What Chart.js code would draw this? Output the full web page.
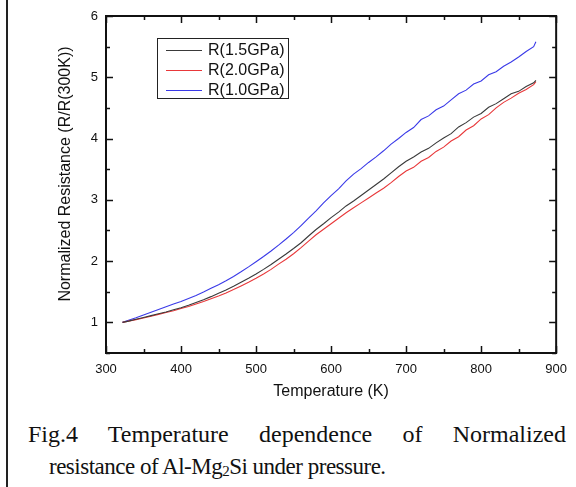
<!DOCTYPE html>
<html>
<head>
<meta charset="utf-8">
<script src="https://cdn.jsdelivr.net/npm/chart.js@4.4.1/dist/chart.umd.min.js"></script>
<style>
  html, body { margin: 0; padding: 0; background: #fff; }
  #wrap { position: relative; width: 576px; height: 487px; overflow: hidden; }
  #leftRule { position: absolute; left: 6px; top: 0; width: 2px; height: 487px; background: #222; }
  #chart { position: absolute; left: 0; top: 0; }
  .cap { position: absolute; font-family: "Liberation Serif", "DejaVu Serif", serif; font-size: 23px; color: #111; white-space: nowrap; }
  #cap1 { left: 28px; top: 421px; width: 538px; font-size: 24px; white-space: normal; text-align: justify; text-align-last: justify; }
  #cap2 { left: 49px; top: 454px; letter-spacing: -0.5px; }
</style>
</head>
<body>
<div id="wrap">
  <canvas id="chart" width="576" height="410"></canvas>
  <div id="leftRule"></div>
  <div class="cap" id="cap1">Fig.4 Temperature dependence of Normalized</div>
  <div class="cap" id="cap2">resistance of Al-Mg<sub style="font-size:15px;vertical-align:-2px">2</sub>Si under pressure.</div>
</div>
<script>
// temperature (K)
const temps = [322, 330, 340, 350, 360, 370, 380, 390, 400, 410, 420, 430, 440, 450, 460, 470, 480, 490,
    500, 510, 520, 530, 540, 550, 560, 570, 580, 590, 600, 610, 620, 630, 640, 650, 660, 670, 680, 690,
    700, 710, 720, 730, 740, 750, 760, 770, 780, 790, 800, 810, 820, 830, 840, 850, 860, 870, 873];

// R/R(300K) at 1.5 GPa
const r15 = [1.00, 1.02, 1.05, 1.08, 1.11, 1.14, 1.17, 1.205, 1.24, 1.28, 1.325, 1.37, 1.42, 1.475, 1.53, 1.59, 1.655, 1.72,
    1.79, 1.865, 1.945, 2.03, 2.115, 2.205, 2.30, 2.41, 2.515, 2.61, 2.71, 2.80, 2.90, 2.98, 3.07, 3.16, 3.25, 3.34, 3.44, 3.54,
    3.63, 3.70, 3.78, 3.84, 3.93, 4.01, 4.08, 4.19, 4.26, 4.35, 4.41, 4.51, 4.57, 4.65, 4.73, 4.77, 4.85, 4.91, 4.95];

// R/R(300K) at 2.0 GPa
const r20 = [1.00, 1.02, 1.045, 1.07, 1.10, 1.13, 1.16, 1.19, 1.225, 1.26, 1.30, 1.34, 1.385, 1.43, 1.48, 1.535, 1.595, 1.655,
    1.72, 1.79, 1.865, 1.95, 2.03, 2.12, 2.22, 2.325, 2.43, 2.52, 2.61, 2.70, 2.79, 2.87, 2.95, 3.03, 3.11, 3.19, 3.28, 3.38,
    3.47, 3.53, 3.63, 3.69, 3.79, 3.86, 3.96, 4.03, 4.14, 4.21, 4.32, 4.39, 4.50, 4.59, 4.66, 4.74, 4.80, 4.88, 4.93];

// R/R(300K) at 1.0 GPa
const r10 = [1.00, 1.035, 1.075, 1.12, 1.165, 1.21, 1.255, 1.30, 1.34, 1.39, 1.44, 1.495, 1.555, 1.615, 1.68, 1.75, 1.825, 1.905,
    1.99, 2.075, 2.165, 2.26, 2.36, 2.465, 2.58, 2.70, 2.82, 2.95, 3.07, 3.18, 3.31, 3.42, 3.51, 3.61, 3.70, 3.80, 3.91, 4.00,
    4.10, 4.18, 4.31, 4.37, 4.47, 4.53, 4.63, 4.73, 4.79, 4.89, 4.94, 5.04, 5.09, 5.18, 5.25, 5.33, 5.42, 5.50, 5.58];

const seriesNames = ['R(1.5GPa)', 'R(2.0GPa)', 'R(1.0GPa)'];
const seriesColors = ['#3a3a3a', '#e8383a', '#3a3ae8'];

const xTicks = [300, 400, 500, 600, 700, 800, 900];
const yTicks = [1, 2, 3, 4, 5, 6];

const axisFont = { family: 'Liberation Sans, Arial, sans-serif', size: 13 };
const yTitle = 'Normalized Resistance (R/R(300K))';

// frame + inward ticks on all four sides, and the y title
const framePlugin = {
    id: 'frame',
    afterDatasetsDraw(chart) {
        const { ctx, chartArea: a, scales } = chart;
        const x = scales.x, y = scales.y;
        ctx.save();
        ctx.strokeStyle = '#111';
        ctx.lineWidth = 2;
        ctx.strokeRect(a.left, a.top, a.right - a.left, a.bottom - a.top);
        ctx.lineWidth = 1.5;
        ctx.beginPath();
        for (let v = x.min; v <= x.max; v += 50) {
            const px = Math.round(x.getPixelForValue(v)) + 0.5;
            const len = v % 100 === 0 ? 7 : 4;
            ctx.moveTo(px, a.bottom); ctx.lineTo(px, a.bottom - len);
            ctx.moveTo(px, a.top); ctx.lineTo(px, a.top + len);
        }
        for (let v = y.min; v <= y.max + 1e-9; v += 0.5) {
            const py = Math.round(y.getPixelForValue(v)) + 0.5;
            const len = Math.abs(v - Math.round(v)) < 1e-9 ? 7 : 4;
            ctx.moveTo(a.left, py); ctx.lineTo(a.left + len, py);
            ctx.moveTo(a.right, py); ctx.lineTo(a.right - len, py);
        }
        ctx.stroke();

        // rotated y title, sits a little above the plot's middle like the original
        ctx.translate(66, a.top + 158);
        ctx.rotate(-Math.PI / 2);
        ctx.fillStyle = '#111';
        ctx.font = '16px "Liberation Sans", Arial, sans-serif';
        ctx.textAlign = 'center';
        ctx.textBaseline = 'middle';
        ctx.fillText(yTitle, 0, 0);
        ctx.restore();
    }
};

// boxed legend inside the plot
const boxLegend = {
    id: 'boxLegend',
    afterDraw(chart) {
        const { ctx, chartArea: a } = chart;
        const bx = a.left + 51, by = a.top + 22, bw = 131, bh = 60;
        ctx.save();
        ctx.fillStyle = '#fff';
        ctx.fillRect(bx, by, bw, bh);
        ctx.strokeStyle = '#222';
        ctx.lineWidth = 1;
        ctx.strokeRect(bx + 0.5, by + 0.5, bw, bh);
        ctx.font = '16px "Liberation Sans", Arial, sans-serif';
        ctx.textBaseline = 'middle';
        chart.data.datasets.forEach((ds, i) => {
            const ly = by + 12 + i * 20;
            ctx.strokeStyle = ds.borderColor;
            ctx.beginPath();
            ctx.moveTo(bx + 9, ly + 0.5);
            ctx.lineTo(bx + 45, ly + 0.5);
            ctx.stroke();
            ctx.fillStyle = '#111';
            ctx.fillText(ds.label, bx + 51, ly + 1);
        });
        ctx.restore();
    }
};

const seriesData = [r15, r20, r10];

new Chart(document.getElementById('chart'), {
    type: 'line',
    data: {
        labels: temps,
        datasets: seriesData.map((d, i) => ({
            label: seriesNames[i],
            data: d,
            borderColor: seriesColors[i],
            borderWidth: 1.1,
            pointRadius: 0,
            tension: 0,
            fill: false
        }))
    },
    options: {
        responsive: false,
        animation: false,
        layout: { padding: { left: 0, right: 12, top: 16, bottom: 0 } },
        plugins: {
            legend: { display: false },
            tooltip: { enabled: false }
        },
        scales: {
            x: {
                type: 'linear',
                min: 300,
                max: 900,
                grid: { display: false, drawTicks: false },
                border: { display: false },
                afterBuildTicks: s => { s.ticks = xTicks.map(v => ({ value: v })); },
                afterFit: s => { s.height = 57; },
                ticks: { color: '#111', font: axisFont, padding: 9, maxRotation: 0 },
                title: {
                    display: true,
                    text: 'Temperature (K)',
                    color: '#111',
                    font: { family: 'Liberation Sans, Arial, sans-serif', size: 16 },
                    padding: { top: 0, bottom: 9 }
                }
            },
            y: {
                min: 0.5,
                max: 6,
                grid: { display: false, drawTicks: false },
                border: { display: false },
                afterBuildTicks: s => { s.ticks = yTicks.map(v => ({ value: v })); },
                afterFit: s => { s.width = 106; },
                ticks: { color: '#111', font: axisFont, padding: 8 }
            }
        }
    },
    plugins: [framePlugin, boxLegend]
});
</script>
</body>
</html>
